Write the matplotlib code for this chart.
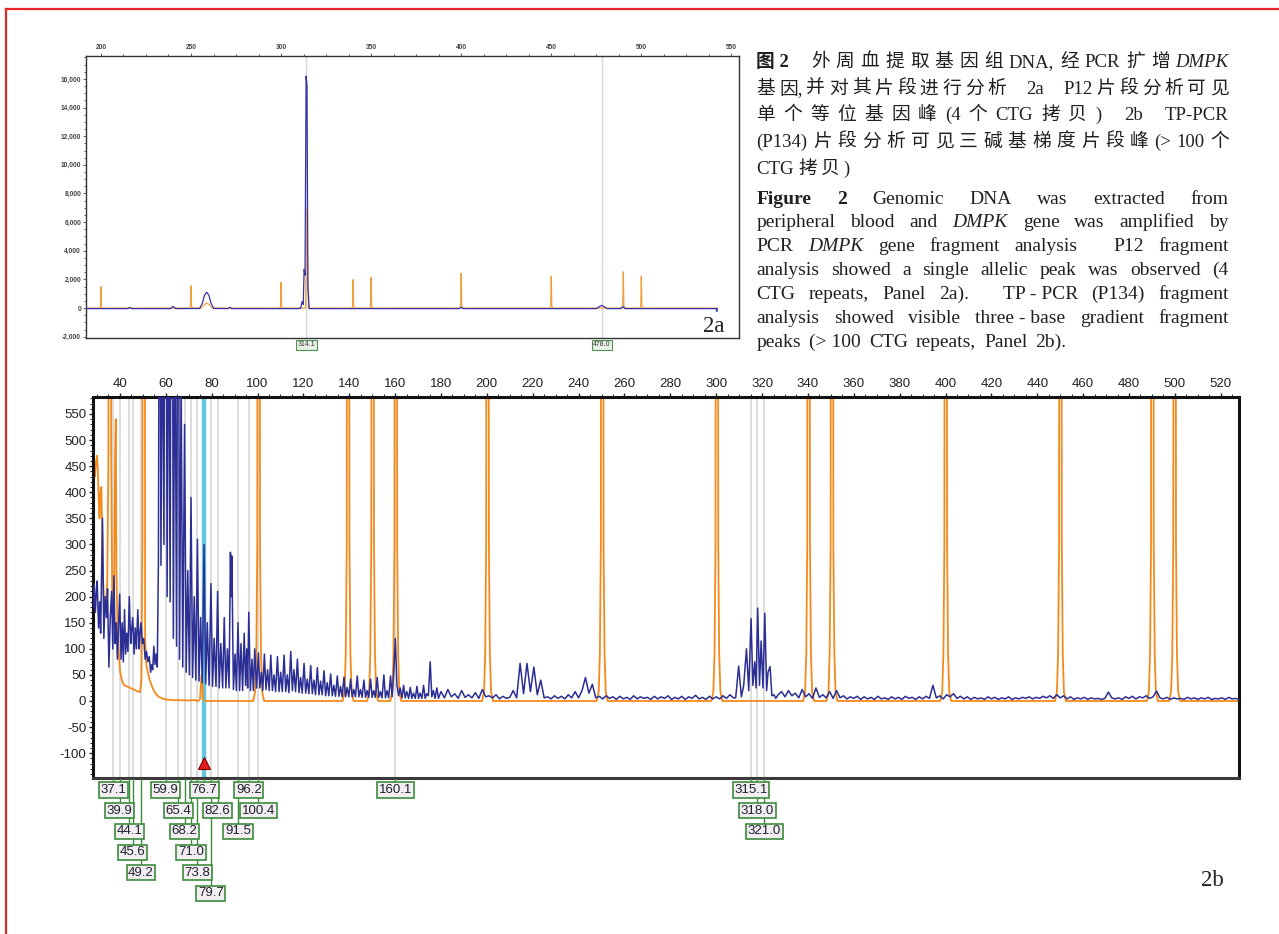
import numpy as np
import matplotlib
matplotlib.use('Agg')
import matplotlib.pyplot as plt
from matplotlib.lines import Line2D
from matplotlib.transforms import IdentityTransform, blended_transform_factory
from matplotlib.ticker import MultipleLocator, FuncFormatter

plt.rcParams['font.family'] = ['Liberation Sans', 'DejaVu Sans']
plt.rcParams['axes.unicode_minus'] = False

# ---------------- data: panel 2a ----------------
A_LADDER_X = [200, 250, 300, 340, 350, 400, 450, 490, 500]
A_LADDER_H = [1490, 1560, 1790, 1980, 2140, 2420, 2230, 2530, 2230]
A_ORANGE_EXTRA_X = [255.5, 257.5, 258.7, 260.0, 262.0, 313.6, 314.3, 314.7, 315.2]
A_ORANGE_EXTRA_Y = [0, 250, 350, 250, 0, 0, 6900, 3500, 0]
A_BLUE_X = [191.8, 215, 216, 217, 238.5, 240.0, 241.5, 254.8, 256.3, 257.5,
            258.7, 259.9, 261.1, 262.6, 270.5, 271.5, 272.5, 309.5, 310.8, 311.7,
            312.3, 312.8, 313.3, 313.9, 314.4, 314.9, 315.6, 399.0, 400.0, 401.0,
            475.0, 477.0, 478.0, 479.0, 481.0, 488.5, 489.8, 491.0, 541.6, 541.9,
            542.2]
A_BLUE_Y = [-40, -40, 40, -40, -40, 110, -40, -30, 350, 900,
            1100, 900, 350, -30, -40, 60, -40, -40, -20, 450,
            250, 2700, 2300, 16200, 15500, 1500, -40, -40, 50, -40,
            -40, 120, 190, 120, -40, -40, 90, -40, -40, -230,
            -40]
A_LABELS = [314.1, 478.0]
A_XTICKS = [200, 250, 300, 350, 400, 450, 500, 550]
A_YTICKS = [-2000, 0, 2000, 4000, 6000, 8000, 10000, 12000, 14000, 16000]

# ---------------- data: panel 2b ----------------
B_ORANGE_1_X = [28.4, 28.8, 29.1, 29.5, 30.0, 30.4, 30.8, 31.1, 31.5, 31.9,
                32.3, 32.7, 33.1, 33.6, 34.0, 34.5, 35.0, 35.4, 35.8, 36.2,
                36.6, 37.0, 37.5, 37.9, 38.2, 38.5, 38.9, 39.4, 40.0, 40.6,
                41.2, 42.0, 43.0, 44.0, 45.0, 46.0, 47.0, 48.0, 48.8, 49.4,
                49.8, 50.3, 50.7, 51.0, 51.5, 52.2, 53.0, 54.0, 55.0, 56.0,
                57.0, 58.5, 60.0, 62.0, 70.0, 73.0]
B_ORANGE_1_Y = [420, 440, 430, 455, 470, 440, 380, 350, 400, 410,
                330, 230, 190, 200, 175, 230, 470, 3000, 3000, 480,
                220, 190, 210, 470, 540, 250, 150, 100, 60, 45,
                35, 30, 28, 26, 24, 22, 20, 18, 17, 40,
                300, 3000, 3000, 120, 70, 55, 40, 28, 18, 12,
                8, 5, 3, 2, 1, 2]
B_LADDER_X = [75.6, 100.5, 139.5, 150.2, 160.3, 200.3, 250.3, 300.3, 340.3,
              350.5, 400.1, 450.1, 490.2, 499.9]
B_LADDER_H = [50, 3000, 3000, 3000, 3000, 3000, 3000, 3000, 3000,
              3000, 3000, 3000, 3000, 3000]

B_BLUE_1_X = [28.4, 28.8, 29.3, 29.8, 30.1, 30.7, 31.2, 31.6, 32.4, 33.0,
              33.6, 34.2, 34.6, 35.2, 35.8, 36.4, 36.9, 37.4, 37.9, 38.4,
              38.9, 39.4, 39.9, 40.5, 41.0, 41.5, 42.0, 42.5, 43.0, 43.5,
              44.1, 44.7, 45.0, 45.6, 46.2, 46.7, 47.2, 47.8, 48.4, 48.8,
              49.2, 49.8, 50.4, 51.0, 51.6, 52.2, 52.8, 53.4, 53.9, 54.3,
              54.8, 55.3, 55.8, 56.3, 56.8]
B_BLUE_1_Y = [180, 225, 170, 215, 230, 140, 190, 130, 350, 120,
              200, 160, 215, 65, 160, 210, 100, 240, 110, 150,
              80, 145, 205, 80, 150, 75, 175, 90, 130, 95,
              200, 110, 130, 160, 90, 140, 100, 175, 100, 130,
              150, 110, 120, 80, 95, 75, 85, 55, 70, 60,
              105, 70, 90, 65, 270]
B_BLUE_2_X = [57.3, 57.9, 58.5, 59.2, 59.9, 60.6, 61.2, 61.9, 62.6, 63.3,
              64.0, 64.7, 65.4, 66.0, 66.7, 67.4, 68.2, 68.9, 69.6, 70.3,
              71.0, 71.7, 72.4, 73.1, 73.8, 74.5, 75.2, 75.9, 76.7, 77.4,
              78.1, 78.9, 79.7, 80.4, 81.1, 81.9, 82.6, 83.3, 84.0, 84.8,
              85.5, 86.2, 86.9, 87.6, 88.2, 88.5, 88.8, 89.5, 90.2, 90.8,
              91.5, 92.2, 92.8, 93.5, 94.2, 94.8, 95.3, 95.7, 96.2, 96.9,
              97.6, 98.2, 98.8, 99.6]
B_BLUE_2_Y = [1200, 260, 800, 300, 1500, 200, 900, 190, 1500, 120,
              800, 105, 1200, 80, 620, 65, 530, 55, 250, 50,
              390, 45, 200, 40, 310, 38, 160, 35, 300, 33,
              150, 30, 225, 28, 120, 28, 210, 25, 110, 25,
              160, 25, 100, 25, 285, 200, 278, 22, 90, 20,
              150, 20, 110, 20, 130, 30, 100, 25, 170, 20,
              80, 20, 100, 25]
B_BLUE_3_X = [100.4, 101.0, 101.7, 102.3, 103.0, 103.7, 104.4, 105.1, 105.8, 106.5,
              107.2, 107.9, 108.7, 109.4, 110.1, 110.8, 111.6, 112.3, 113.0, 113.7,
              114.5, 115.2, 115.9, 116.6, 117.4, 118.1, 118.8, 119.5, 120.3, 121.0,
              121.7, 122.4, 123.2, 123.9, 124.6, 125.3, 126.1, 126.8, 127.5, 128.2,
              129.0, 129.7, 130.4, 131.1, 131.9, 132.6, 133.3, 134.0, 134.8, 135.5,
              136.2, 136.9, 137.7, 138.4, 139.1, 139.8, 140.6, 141.3, 142.0, 142.7,
              143.5, 144.2, 144.9, 145.6, 146.4, 147.1, 147.8, 148.5, 149.3, 150.0,
              150.7, 151.4, 152.2, 152.9, 153.6, 154.3, 155.1, 155.8, 156.5, 157.2,
              158.0, 158.7, 159.4, 160.1, 160.8, 161.5, 162.2, 163.0, 163.7, 164.4,
              165.1, 165.9, 166.6, 167.3, 168.0, 168.8, 169.5, 170.2, 170.9, 171.7,
              172.4, 173.1, 173.8, 174.5, 175.3, 176.0, 176.7, 177.4, 178.2, 178.9]
B_BLUE_3_Y = [92, 25, 55, 20, 90, 22, 60, 20, 88, 20,
              50, 18, 85, 18, 55, 18, 88, 18, 50, 16,
              95, 20, 60, 18, 80, 16, 45, 15, 72, 15,
              42, 14, 68, 14, 40, 12, 64, 12, 38, 12,
              58, 10, 35, 10, 52, 10, 30, 9, 48, 9,
              28, 8, 46, 8, 26, 8, 42, 8, 22, 8,
              48, 8, 22, 7, 40, 7, 20, 7, 42, 7,
              20, 7, 45, 7, 18, 6, 50, 6, 20, 6,
              48, 8, 55, 120, 30, 10, 25, 6, 30, 6,
              18, 5, 26, 5, 15, 5, 28, 5, 15, 5,
              30, 5, 14, 10, 75, 8, 20, 5, 25, 5]
B_CLUSTER_X = [308.5, 309.8, 311.0, 312.0, 313.2, 314.2, 315.2, 316.0, 316.8, 317.4,
               318.1, 318.9, 319.6, 320.4, 321.2, 322.0, 322.6, 323.5, 324.3, 325.2,
               326.0]
B_CLUSTER_Y = [6, 67, 8, 30, 100, 20, 158, 30, 75, 25,
               178, 30, 115, 25, 168, 20, 55, 66, 10, 12,
               5]
# blue trace sampled every 1.5 bp from 180 bp
B_TAIL_START = 180.0
B_TAIL_STEP = 1.5
B_TAIL_Y = [18, 6, 22, 8, 14, 5, 20, 7, 12, 6, 16, 5, 22, 8, 10, 6, 12, 4, 9, 5,
            7, 20, 6, 72, 14, 72, 18, 65, 12, 40, 6, 8, 4, 10, 5, 9, 4, 12, 6, 18,
            6, 20, 45, 15, 32, 6, 9, 4, 10, 5, 8, 3, 9, 4, 7, 3, 10, 4, 8, 5,
            7, 3, 9, 4, 8, 5, 10, 3, 7, 4, 9, 3, 8, 5, 11, 4, 7, 3, 9, 4,
            8, 4, 10, 5, 12, 6, 15, 8, 30, 100, 158, 75, 178, 115, 168, 60, 66, 12, 12, 18,
            8, 20, 10, 15, 6, 22, 8, 14, 5, 25, 7, 12, 6, 18, 5, 20, 6, 10, 4, 8,
            5, 9, 3, 8, 4, 7, 3, 9, 4, 6, 3, 8, 4, 7, 3, 9, 5, 7, 3, 8,
            4, 9, 5, 30, 6, 10, 4, 12, 8, 14, 5, 9, 4, 8, 3, 7, 4, 6, 3, 8,
            4, 7, 3, 6, 4, 8, 3, 6, 4, 7, 5, 8, 4, 7, 5, 9, 6, 10, 5, 12,
            6, 10, 4, 8, 3, 6, 4, 7, 3, 6, 4, 5, 3, 5, 17, 6, 4, 6, 3, 8,
            5, 9, 4, 8, 6, 10, 5, 8, 19, 6, 4, 7, 3, 6, 4, 5, 3, 7, 4, 6,
            3, 6, 4, 7, 3, 5, 4, 6, 3, 7, 4, 5, 3]
B_LABELS = [37.1, 39.9, 44.1, 45.6, 49.2, 59.9, 65.4, 68.2, 71.0, 73.8, 76.7,
            79.7, 82.6, 91.5, 96.2, 100.4, 160.1, 315.1, 318.0, 321.0]
B_SELECTED = 76.7
B_MARKER_Y = -119
B_XTICKS = list(range(40, 521, 20))
B_YTICKS = list(range(-100, 551, 50))

# ---------------- caption text ----------------
CAP_CN = [
    [("图 2", "b"), ("10", "sp"), ("外", "n"), ("周", "n"), ("血", "n"), ("提", "n"), ("取", "n"),
     ("基", "n"), ("因", "n"), ("组", "n"), ("DNA,", "n"), ("经", "n"), ("PCR", "n"),
     ("扩", "n"), ("增", "n"), ("DMPK", "i")],
    [("基", "n"), ("因,", "n"), ("并", "n"), ("对", "n"), ("其", "n"), ("片", "n"), ("段", "n"),
     ("进", "n"), ("行", "n"), ("分", "n"), ("析", "n"), ("12", "sp"), ("2a", "n"), ("12", "sp"),
     ("P12", "n"), ("片", "n"), ("段", "n"), ("分", "n"), ("析", "n"), ("可", "n"), ("见", "n")],
    [("单", "n"), ("个", "n"), ("等", "n"), ("位", "n"), ("基", "n"), ("因", "n"), ("峰", "n"),
     ("(4", "n"), ("个", "n"), ("CTG", "n"), ("拷", "n"), ("贝", "n"), (")", "n"), ("6", "sp"),
     ("2b", "n"), ("6", "sp"), ("TP-PCR", "n")],
    [("(P134)", "n"), ("片", "n"), ("段", "n"), ("分", "n"), ("析", "n"), ("可", "n"), ("见", "n"),
     ("三", "n"), ("碱", "n"), ("基", "n"), ("梯", "n"), ("度", "n"), ("片", "n"), ("段", "n"),
     ("峰", "n"), ("(>", "n"), ("100", "n"), ("个", "n")],
    [("CTG", "n"), ("拷", "n"), ("贝", "n"), (")", "n")],
]
CAP_EN = [
    [("Figure", "b"), ("2", "b"), ("Genomic", "n"), ("DNA", "n"), ("was", "n"),
     ("extracted", "n"), ("from", "n")],
    [("peripheral", "n"), ("blood", "n"), ("and", "n"), ("DMPK", "i"), ("gene", "n"),
     ("was", "n"), ("amplified", "n"), ("by", "n")],
    [("PCR", "n"), ("DMPK", "i"), ("gene", "n"), ("fragment", "n"), ("analysis", "n"),
     ("6", "sp"), ("P12", "n"), ("fragment", "n")],
    [("analysis", "n"), ("showed", "n"), ("a", "n"), ("single", "n"), ("allelic", "n"),
     ("peak", "n"), ("was", "n"), ("observed", "n"), ("(4", "n")],
    [("CTG", "n"), ("repeats,", "n"), ("Panel", "n"), ("2a).", "n"), ("6", "sp"),
     ("TP - PCR", "n"), ("(P134)", "n"), ("fragment", "n")],
    [("analysis", "n"), ("showed", "n"), ("visible", "n"), ("three - base", "n"),
     ("gradient", "n"), ("fragment", "n")],
    [("peaks", "n"), ("(> 100", "n"), ("CTG", "n"), ("repeats,", "n"), ("Panel", "n"),
     ("2b).", "n")],
]

# ---------------- figure ----------------
W, H = 1279, 934
fig = plt.figure(figsize=(W / 100, H / 100), dpi=100)
fig.patch.set_facecolor('white')
PIX = IdentityTransform()


def frac(left, top, right, bottom):
    return [left / W, 1 - bottom / H, (right - left) / W, (bottom - top) / H]


PEAK_DX = [-2.8, -1.8, -1.2, -0.7, -0.5, 0.0, 0.5, 0.7, 1.2, 1.8, 2.8]
PEAK_REL = [0, 0.006, 0.03, 0.1, 0.45, 1.0, 0.45, 0.1, 0.03, 0.006, 0]


def ladder_trace(px, ph, scale, extra_x, extra_y, x0, x1):
    xs, ys = [x0, x1], [0, 0]
    for p, h in zip(px, ph):
        xs += [p + d * scale for d in PEAK_DX]
        ys += [h * r for r in PEAK_REL]
    xs += list(extra_x)
    ys += list(extra_y)
    order = np.argsort(xs, kind='stable')
    return np.asarray(xs)[order], np.asarray(ys)[order]


# red frame (top & left visible)
fig.add_artist(Line2D([6 / W, 1.0], [1 - 9 / H, 1 - 9 / H], transform=fig.transFigure,
                      color='#e8252d', lw=1.6))
fig.add_artist(Line2D([6 / W, 6 / W], [0, 1 - 9 / H], transform=fig.transFigure,
                      color='#e8252d', lw=1.6))

# ---------- panel 2a ----------
ax_a = fig.add_axes(frac(86, 56, 739.3, 337.7))
ax_a.set_xlim(191.7, 554.4)
ax_a.set_ylim(-2070, 17600)
for v in A_LABELS:
    ax_a.axvline(v, color='#d6d6d6', lw=1.0, zorder=1)
ox, oy = ladder_trace(A_LADDER_X, A_LADDER_H, 0.4, A_ORANGE_EXTRA_X, A_ORANGE_EXTRA_Y, 191.8, 542.0)
ax_a.plot(ox, oy, color='#f0a040', lw=0.9, zorder=2)
ax_a.plot(A_BLUE_X, A_BLUE_Y, color='#3535a8', lw=0.9, zorder=3)
ax_a.xaxis.tick_top()
ax_a.set_xticks(A_XTICKS)
ax_a.xaxis.set_minor_locator(MultipleLocator(12.5))
ax_a.set_yticks(A_YTICKS)
ax_a.yaxis.set_minor_locator(MultipleLocator(500))
ax_a.yaxis.set_major_formatter(FuncFormatter(lambda v, p: f'{v:,.0f}'))
ax_a.tick_params(which='both', direction='out', labelsize=4.8, colors='#444444',
                 length=2, width=0.6, pad=1.5)
ax_a.tick_params(which='minor', length=1.2)
for lab in ax_a.get_xticklabels() + ax_a.get_yticklabels():
    lab.set_fontweight('bold')
for s in ax_a.spines.values():
    s.set_linewidth(1.0)
    s.set_color('#333333')

blend_a = blended_transform_factory(ax_a.transData, PIX)
for v in A_LABELS:
    ax_a.text(v, H - 345, f'{v:.1f}', transform=blend_a, ha='center', va='center',
              fontsize=5, color='#333333',
              bbox=dict(boxstyle='square,pad=0.2', fc='#e9f1e9', ec='#4f944f', lw=0.8),
              clip_on=False, zorder=8)
fig.text(714, H - 327, '2a', transform=PIX, ha='center', va='center', fontsize=16.5,
         family='Liberation Serif', color='#222222')

# ---------- panel 2b ----------
ax_b = fig.add_axes(frac(93.3, 397.3, 1239.3, 777.7))
ax_b.set_xlim(28.4, 528.1)
ax_b.set_ylim(-147, 582)
for v in B_LABELS:
    ax_b.axvline(v, color='#dadada', lw=1.3, zorder=1)
ax_b.axvline(B_SELECTED, color='#63c6de', lw=3.2, zorder=1.5)

ox, oy = ladder_trace(B_LADDER_X, B_LADDER_H, 0.85, B_ORANGE_1_X, B_ORANGE_1_Y, 73.5, 528.1)
ax_b.plot(ox, oy, color='#f58a1c', lw=1.3, zorder=2)

tail_x = B_TAIL_START + B_TAIL_STEP * np.arange(len(B_TAIL_Y))
tail_y = np.asarray(B_TAIL_Y, dtype=float)
keep = (tail_x < B_CLUSTER_X[0]) | (tail_x > B_CLUSTER_X[-1])
bx = np.concatenate([B_BLUE_1_X, B_BLUE_2_X, B_BLUE_3_X, tail_x[keep], B_CLUSTER_X])
by = np.concatenate([B_BLUE_1_Y, B_BLUE_2_Y, B_BLUE_3_Y, tail_y[keep], B_CLUSTER_Y])
order = np.argsort(bx, kind='stable')
ax_b.plot(bx[order], by[order], color='#2b2e94', lw=1.1, zorder=3)

ax_b.plot([B_SELECTED], [B_MARKER_Y], marker='^', ms=9, color='#e31b1b', mec='#7a0000',
          mew=0.8, zorder=6, clip_on=False)

ax_b.xaxis.tick_top()
ax_b.set_xticks(B_XTICKS)
ax_b.xaxis.set_minor_locator(MultipleLocator(5))
ax_b.set_yticks(B_YTICKS)
ax_b.yaxis.set_minor_locator(MultipleLocator(10))
ax_b.tick_params(which='both', direction='out', labelsize=9.5, colors='#222222',
                 length=3, width=1.0, pad=2)
ax_b.tick_params(which='minor', length=2, width=0.7)
for s in ax_b.spines.values():
    s.set_linewidth(2.2)
    s.set_color('#111111')
ax_b.spines['bottom'].set_color('#3a3a3a')

# peak-label boxes under panel 2b
LABEL_SEP_PX = 36.3
ROW0_PY = 790.0
ROW_STEP_PX = 20.7
blend_b = blended_transform_factory(ax_b.transData, PIX)
rows_last = []
for v in sorted(B_LABELS):
    cx = ax_b.transData.transform((v, 0))[0]
    r = next((i for i, last in enumerate(rows_last) if cx - last >= LABEL_SEP_PX), len(rows_last))
    if r == len(rows_last):
        rows_last.append(cx)
    else:
        rows_last[r] = cx
    yc = H - (ROW0_PY + r * ROW_STEP_PX)
    ax_b.add_line(Line2D([v, v], [H - 778.5, yc], transform=blend_b, color='#3c8c3c',
                         lw=1.0, clip_on=False, zorder=7))
    ax_b.text(v, yc, f'{v:.1f}', transform=blend_b, ha='center', va='center', fontsize=9.5,
              color='#1f1f2f',
              bbox=dict(boxstyle='square,pad=0.12', fc='#f3eef1', ec='#3c8c3c', lw=1.2),
              clip_on=False, zorder=8)

fig.text(1212, H - 880, '2b', transform=PIX, ha='center', va='center', fontsize=16.5,
         family='Liberation Serif', color='#222222')

# ---------- caption (justified) ----------
CAP_FAMILY = ['Liberation Serif', 'Noto Sans CJK SC']
CAP_X0, CAP_X1 = 756.5, 1228.7
renderer = fig.canvas.get_renderer()


def place_line(tokens, y_base, size, justify, nat_gap):
    arts, widths = [], []
    for text, st in tokens:
        if st == 'sp':
            arts.append(None)
            widths.append(float(text))
            continue
        t = fig.text(0, 0, text, transform=PIX, fontsize=size, family=CAP_FAMILY,
                     fontweight='bold' if st == 'b' else 'normal',
                     fontstyle='italic' if st == 'i' else 'normal',
                     ha='left', va='baseline', color='#231f20')
        arts.append(t)
        widths.append(t.get_window_extent(renderer).width)
    n_gaps = max(len(tokens) - 1, 1)
    gap = (CAP_X1 - CAP_X0 - sum(widths)) / n_gaps if justify else nat_gap
    x = CAP_X0
    for a, w in zip(arts, widths):
        if a is not None:
            a.set_position((x, H - y_base))
        x += w + gap


for i, toks in enumerate(CAP_CN):
    place_line(toks, 67 + 26.67 * i, 13.5, i < len(CAP_CN) - 1, 4)
for i, toks in enumerate(CAP_EN):
    place_line(toks, 203.5 + 23.9 * i, 14, i < len(CAP_EN) - 1, 8)

fig.savefig('out.png', dpi=100)
